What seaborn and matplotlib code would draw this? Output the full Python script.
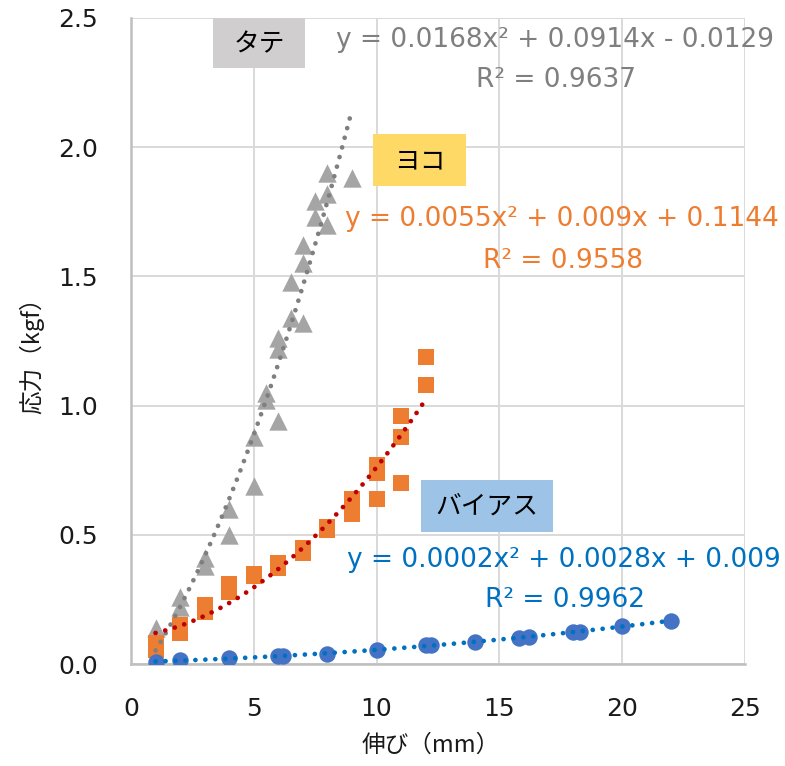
import numpy as np
import matplotlib
matplotlib.use("Agg")
import matplotlib.pyplot as plt
import seaborn as sns
from matplotlib.patches import Rectangle

# ---------------- data ----------------
tate_x = [1, 2, 2, 3, 3, 4, 4, 5, 5, 5.5, 5.5, 6, 6, 6, 6.5, 6.5, 7, 7, 7, 7.5, 7.5, 8, 8, 8, 9]
tate_y = [0.14, 0.26, 0.22, 0.41, 0.38, 0.60, 0.50, 0.88, 0.69, 1.05, 1.02, 1.26, 1.22, 0.94,
          1.48, 1.34, 1.62, 1.55, 1.32, 1.79, 1.73, 1.90, 1.82, 1.70, 1.88]

yoko_x = [1, 1, 2, 2, 3, 3, 4, 4, 5, 5, 6, 6, 7, 7, 8, 8, 9, 9, 10, 10, 10, 11, 11, 11, 12, 12]
yoko_y = [0.08, 0.055, 0.15, 0.12, 0.23, 0.20, 0.31, 0.28, 0.35, 0.34, 0.39, 0.37, 0.45, 0.43,
          0.53, 0.52, 0.64, 0.58, 0.77, 0.74, 0.64, 0.96, 0.88, 0.70, 1.19, 1.08]

bias_x = [1, 2, 4, 6, 6.2, 8, 10, 12, 12.2, 14, 15.8, 16.2, 18, 18.3, 20, 22]
bias_y = [0.008, 0.015, 0.022, 0.030, 0.032, 0.040, 0.055, 0.072, 0.073, 0.085, 0.102, 0.103,
          0.125, 0.124, 0.147, 0.168]

series_names = ["タテ", "ヨコ", "バイアス"]
equations = ["y = 0.0168x² + 0.0914x - 0.0129",
             "y = 0.0055x² + 0.009x + 0.1144",
             "y = 0.0002x² + 0.0028x + 0.009"]
r2_labels = ["R² = 0.9637", "R² = 0.9558", "R² = 0.9962"]
x_ticks = [0, 5, 10, 15, 20, 25]
y_ticks = [0.0, 0.5, 1.0, 1.5, 2.0, 2.5]
x_label = "伸び（mm）"
y_label = "応力（kgf）"

# ---------------- style ----------------
sns.set_theme(style="white")
plt.rcParams['font.family'] = ['DejaVu Sans', 'Noto Sans CJK JP']
CJK = ['Noto Sans CJK JP', 'DejaVu Sans']

W, H = 785, 766
fig = plt.figure(figsize=(W / 100, H / 100), dpi=100)
fig.patch.set_facecolor('white')

def fx(px):
    return px / W

def fy(py):
    return 1 - py / H

ax = fig.add_axes([fx(131), fy(664), (745 - 131) / W, (664 - 18) / H])

marker_colors = ['#a5a5a5', '#ed7d31', '#4472c4']
line_colors = ['#7f7f7f', '#c00000', '#0070c0']
text_colors = ['#7f7f7f', '#ed7d31', '#0070c0']
box_colors = ['#d0cece', '#ffd966', '#9dc3e6']

sns.scatterplot(x=tate_x, y=tate_y, marker='^', s=175, color=marker_colors[0],
                linewidth=0, ax=ax, zorder=3)
sns.scatterplot(x=yoko_x, y=yoko_y, marker='s', s=140, color=marker_colors[1],
                linewidth=0, ax=ax, zorder=3)
sns.scatterplot(x=bias_x, y=bias_y, marker='o', s=140, color=marker_colors[2],
                linewidth=0, ax=ax, zorder=3)

for xs, ys, c in [(tate_x, tate_y, line_colors[0]),
                  (yoko_x, yoko_y, line_colors[1]),
                  (bias_x, bias_y, line_colors[2])]:
    sns.regplot(x=np.array(xs), y=np.array(ys), order=2, scatter=False, ci=None,
                truncate=True, ax=ax,
                line_kws=dict(color=c, lw=3.4, linestyle=(0, (0.01, 2.1)),
                              dash_capstyle='round', zorder=4))

ax.set_xlim(0, 25)
ax.set_ylim(0, 2.5)
ax.set_xticks(x_ticks)
ax.set_yticks(y_ticks)
ax.set_xticklabels([str(t) for t in x_ticks])
ax.set_yticklabels([f"{t:.1f}" for t in y_ticks])
ax.set_xlabel("")
ax.set_ylabel("")
ax.grid(True, color='#d9d9d9', linewidth=1.4)
ax.set_axisbelow(True)
for s in ['top', 'right']:
    ax.spines[s].set_visible(False)
for s in ['left', 'bottom']:
    ax.spines[s].set_color('#bfbfbf')
    ax.spines[s].set_linewidth(1.8)
ax.tick_params(axis='both', length=0, labelsize=18, labelcolor='#1a1a1a')
ax.tick_params(axis='y', pad=24)
ax.tick_params(axis='x', pad=24)

# axis titles
fig.text(fx(431), fy(745), x_label, ha='center', va='center', fontsize=17,
         family=CJK, color='#1a1a1a')
fig.text(fx(32), fy(350), y_label, ha='center', va='center', fontsize=17,
         family=CJK, color='#1a1a1a', rotation=90)

# series label boxes
boxes = [(213, 305, 18, 68), (373, 466, 134, 186), (421, 553, 480, 532)]
for (x0, x1, y0, y1), name, bc in zip(boxes, series_names, box_colors):
    fig.add_artist(Rectangle((fx(x0), fy(y1)), (x1 - x0) / W, (y1 - y0) / H,
                             transform=fig.transFigure, facecolor=bc,
                             edgecolor='none', zorder=5))
    fig.text(fx((x0 + x1) / 2), fy((y0 + y1) / 2 + 1), name, ha='center', va='center',
             fontsize=18.5, family=CJK, color='black', zorder=6)

# trendline equations
eq_pos = [((555, 40), (556, 80)), ((562, 219), (563, 261)), ((564, 560), (565, 600))]
for (p1, p2), eq, r2, tc in zip(eq_pos, equations, r2_labels, text_colors):
    fig.text(fx(p1[0]), fy(p1[1]), eq, ha='center', va='center', fontsize=19,
             color=tc, zorder=6)
    fig.text(fx(p2[0]), fy(p2[1]), r2, ha='center', va='center', fontsize=19,
             color=tc, zorder=6)

fig.savefig("out.png", dpi=100, facecolor='white')
